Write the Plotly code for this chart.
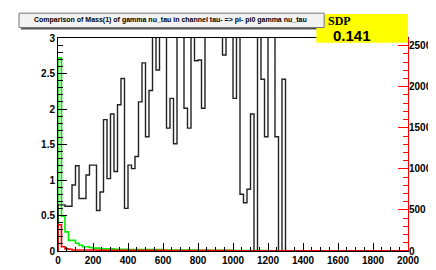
import plotly.graph_objects as go

# ---------------- data ----------------
bin_width = 20
n_bins = 100
edges = [i * bin_width for i in range(n_bins + 1)]

black_vals = [
    0.65, 0.65, 0.63, 0.63, 0.93, 1.20, 0.74, 0.74, 1.07, 1.21,
    1.21, 0.57, 0.83, 1.85, 1.02, 1.93, 1.12, 2.06, 2.43, 0.60,
    1.21, 1.16, 1.33, 2.10, 2.65, 1.61, 2.26, 3.30, 2.55, 3.30,
    3.50, 1.73, 2.15, 1.51, 3.40, 3.20, 2.01, 1.73, 3.30, 2.68,
    2.69, 2.01, 3.60, 3.40, 3.80, 3.50, 3.30, 2.76, 3.40, 3.20,
    2.15, 3.10, 0.80, 0.68, 0.87, 1.93, 0.00, 3.20, 2.42, 1.61,
    3.30, 3.10, 1.61, 0.00, 2.42,
] + [0.0] * 35

green_vals = [
    2.72, 0.49, 0.27, 0.15, 0.15, 0.11, 0.08, 0.06, 0.06, 0.05,
    0.04, 0.04, 0.03, 0.03, 0.03, 0.03, 0.025, 0.025, 0.025, 0.025,
    0.02, 0.02, 0.02, 0.02, 0.02, 0.02, 0.02, 0.02, 0.02, 0.02,
    0.015, 0.015, 0.015, 0.015, 0.015, 0.015, 0.015, 0.015, 0.015, 0.015,
    0.01, 0.01, 0.01, 0.01, 0.01, 0.01, 0.01, 0.01, 0.01, 0.01,
    0.007, 0.007, 0.007, 0.007, 0.007, 0.007, 0.007, 0.007, 0.007, 0.007,
] + [0.004] * 40

red_vals = [
    320, 52, 26, 22, 13, 13, 13, 13, 13, 13,
    13, 8, 8, 8, 8, 8, 8, 8, 8, 8,
    8, 8, 8, 8, 8, 8, 8, 8, 8, 8,
    8, 5, 5, 5, 5, 5, 5, 5, 5, 5,
    5, 5, 10, 5, 5, 5, 5, 5, 5, 5,
] + [2] * 50

x_ticks = [0, 200, 400, 600, 800, 1000, 1200, 1400, 1600, 1800, 2000]
y_ticks = [0, 0.5, 1, 1.5, 2, 2.5, 3]
y2_ticks = [0, 500, 1000, 1500, 2000, 2500]

title_text = "Comparison of Mass(1) of gamma nu_tau in channel tau- => pi- pi0 gamma nu_tau"
sdp_label = "SDP"
sdp_value = "0.141"


def step_xy(vals):
    xs = [edges[0]] + edges[:]
    ys = [0] + list(vals) + [vals[-1]]
    return xs, ys


fig = go.Figure()

gx, gy = step_xy(green_vals)
fig.add_trace(go.Scatter(x=gx, y=gy, mode="lines", line=dict(color="#00ee00", width=1.6, shape="hv"),
                         showlegend=False, hoverinfo="skip"))
rx, ry = step_xy(red_vals)
fig.add_trace(go.Scatter(x=rx, y=ry, mode="lines", yaxis="y2", line=dict(color="#ff0000", width=1.6, shape="hv"),
                         showlegend=False, hoverinfo="skip"))
bx, by = step_xy(black_vals)
fig.add_trace(go.Scatter(x=bx, y=by, mode="lines", line=dict(color="#222222", width=1.4, shape="hv"),
                         showlegend=False, hoverinfo="skip"))

tickfont = dict(family="Liberation Sans, Arial, sans-serif", size=10, color="black", weight="bold")

L, R, T, B = 50, 27, 30, 17
W, H = 436, 270
pw, ph = W - L - R, H - T - B


def px(xp):
    return (xp - L) / pw


def py(yp):
    return (H - B - yp) / ph


fig.update_layout(
    width=W, height=H,
    margin=dict(l=L, r=R, t=T, b=B),
    paper_bgcolor="white", plot_bgcolor="white",
    xaxis=dict(range=[0, 2000], tickvals=x_ticks, ticks="inside", ticklen=8, tickwidth=1,
               tickcolor="black", showline=True, linecolor="black", linewidth=1, mirror=True,
               showgrid=False, zeroline=False, tickfont=tickfont, ticklabelstandoff=0,
               minor=dict(dtick=50, ticks="inside", ticklen=4, tickcolor="black")),
    yaxis=dict(range=[0, 3], tickvals=y_ticks, ticktext=["0", "0.5", "1", "1.5", "2", "2.5", "3"],
               ticks="inside", ticklen=9, tickwidth=1, tickcolor="black", showline=True,
               linecolor="black", linewidth=1, showgrid=False, zeroline=False, tickfont=tickfont,
               minor=dict(dtick=0.1, ticks="inside", ticklen=5, tickcolor="black")),
    yaxis2=dict(range=[0, 2593], overlaying="y", side="right", tickvals=y2_ticks,
                ticks="inside", ticklen=10, tickwidth=1, tickcolor="#ff0000", showline=True,
                linecolor="#ff0000", linewidth=1, showgrid=False, zeroline=False, tickfont=tickfont,
                ticklabelstandoff=-2,
                minor=dict(dtick=100, ticks="inside", ticklen=5, tickcolor="#ff0000")),
)

# Title box (with shadow), SDP box
fig.add_shape(type="rect", xref="paper", yref="paper", x0=px(12), x1=px(325), y0=py(21), y1=py(6),
              fillcolor="#555555", line=dict(width=0), layer="above")
fig.add_shape(type="rect", xref="paper", yref="paper", x0=px(315), x1=px(409), y0=py(35), y1=py(5),
              fillcolor="#ffff00", line=dict(width=0), layer="above")
fig.add_shape(type="rect", xref="paper", yref="paper", x0=px(10), x1=px(323), y0=py(19), y1=py(4),
              fillcolor="#f2f2f2", line=dict(color="#777777", width=1), layer="above")

fig.add_annotation(xref="paper", yref="paper", x=px(165), y=py(11.5), text=title_text, showarrow=False,
                   font=dict(family="Liberation Sans, Arial, sans-serif", size=7, color="black", weight="bold"),
                   xanchor="center", yanchor="middle")
fig.add_annotation(xref="paper", yref="paper", x=px(339), y=py(12.5), text=sdp_label, showarrow=False,
                   font=dict(family="Liberation Serif, Times New Roman, serif", size=12, color="black", weight="bold"),
                   xanchor="center", yanchor="middle")
fig.add_annotation(xref="paper", yref="paper", x=px(352), y=py(27), text=sdp_value, showarrow=False,
                   font=dict(family="Liberation Sans, Arial, sans-serif", size=15, color="black", weight="bold"),
                   xanchor="center", yanchor="middle")

fig.write_html("out.html")
